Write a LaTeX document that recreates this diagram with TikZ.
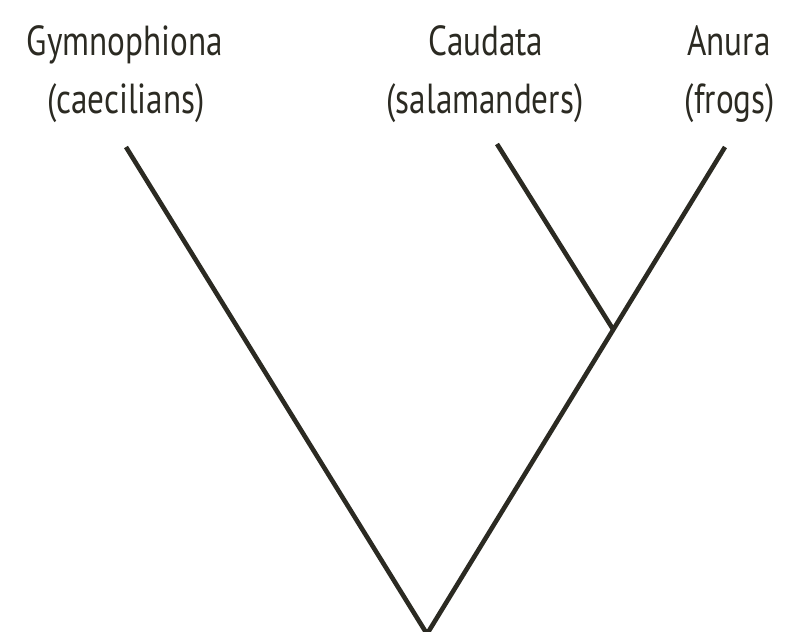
\documentclass[tikz,border=0pt]{standalone}
\usepackage{fontspec}
\usetikzlibrary{calc}
\setmainfont[FakeStretch=0.79]{PT Sans}
\definecolor{ink}{HTML}{2B2A22}
\begin{document}
\begin{tikzpicture}[x=1pt,y=-1pt,
  lbl/.style={anchor=base,inner sep=0pt,text=ink,font=\fontsize{42}{50}\selectfont},
  branch/.style={draw=ink,line width=4.6pt}]
\useasboundingbox (0,0) rectangle (812,632);
\node[lbl] (g1) at (125,55) {Gymnophiona};
\node[lbl] (g2) at (126,113) {(caecilians)};
\node[lbl] (c1) at (486,55) {Caudata};
\node[lbl] (c2) at (485,113) {(salamanders)};
\node[lbl] (a1) at (729,55) {Anura};
\node[lbl] (a2) at (730,113) {(frogs)};
\coordinate (gt) at (126,147);
\coordinate (ct) at (497,144);
\coordinate (at) at (725,147);
\coordinate (root) at (427,634);
\coordinate (j) at ($(at)!0.375!(root)$);
\draw[branch] (gt) -- (root) -- (at);
\draw[branch] (ct) -- (j);
\end{tikzpicture}
\end{document}
